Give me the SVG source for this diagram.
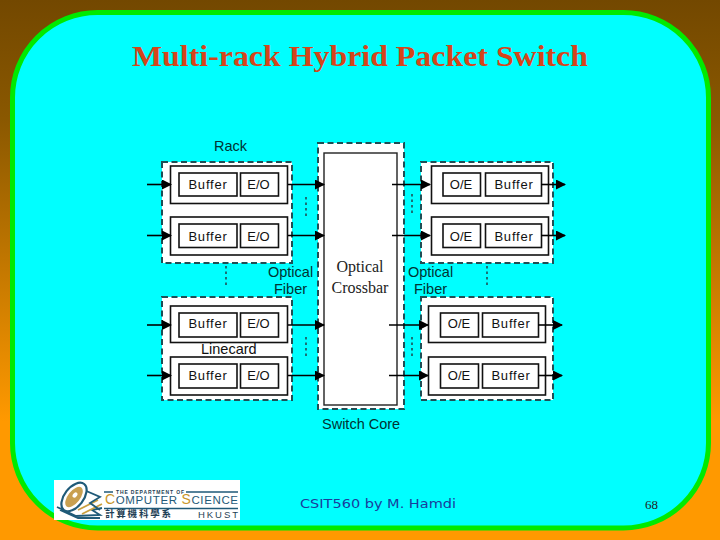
<svg xmlns="http://www.w3.org/2000/svg" width="720" height="540" viewBox="0 0 720 540">
<style>
.a{font-family:"Liberation Sans",Arial,sans-serif;font-size:14.500px;fill:#003333}
.b{font-family:"Liberation Sans",Arial,sans-serif;font-size:13px;fill:#111;text-anchor:middle}
.s{font-family:"Liberation Serif","Times New Roman",serif;font-size:16px;fill:#222;text-anchor:middle}
.d{fill:#fff;stroke:#1f4f55;stroke-width:2;stroke-dasharray:6 3.5}
.l{fill:#fff;stroke:#111;stroke-width:1.600}
.c{stroke:#000;stroke-width:1.600;fill:none;marker-end:url(#ah)}
.v{stroke:#1f4f55;stroke-width:1.600;stroke-dasharray:2.500 3;fill:none}
</style>
<defs>
<linearGradient id="bg" x1="0" y1="0" x2="0" y2="1"><stop offset="0" stop-color="#734800"/><stop offset="0.22" stop-color="#8a5800"/><stop offset="0.78" stop-color="#ff9900"/><stop offset="1" stop-color="#ff9900"/></linearGradient>
<marker id="ah" markerUnits="userSpaceOnUse" markerWidth="10" markerHeight="10" refX="9" refY="5" orient="auto"><path d="M0 0L10 5L0 10Z" fill="#000"/></marker>
</defs>
<rect width="720" height="540" fill="url(#bg)"/>
<rect x="12.500" y="12.500" width="696" height="515.500" rx="85" ry="85" fill="#00ffff" stroke="#00ea00" stroke-width="5"/>
<text x="360" y="66" text-anchor="middle" font-family="Liberation Serif,serif" font-size="30" font-weight="bold" fill="#d4451a" textLength="456" lengthAdjust="spacingAndGlyphs">Multi-rack Hybrid Packet Switch</text>

<g id="switch-core">
<rect class="d" x="318" y="143" width="86" height="266"/>
<rect x="324" y="153" width="73" height="252" fill="#fff" stroke="#222" stroke-width="1.400"/>
<text class="s" x="360" y="272">Optical</text>
<text class="s" x="360" y="293">Crossbar</text>
</g>
<g id="rack-tl"><rect class="d" x="162" y="162" width="130" height="101"/></g>
<g id="rack-tr"><rect class="d" x="421" y="162" width="132" height="101"/></g>
<g id="rack-bl"><rect class="d" x="162" y="297" width="130" height="103"/></g>
<g id="rack-br"><rect class="d" x="421" y="297" width="132" height="103"/></g>

<g id="lc-tl1"><rect class="l" x="170.500" y="166" width="117" height="37.500"/><rect class="l" x="179" y="173" width="58" height="23"/><rect class="l" x="240.500" y="173" width="38" height="23"/><text class="b" x="208" y="189" letter-spacing=".8">Buffer</text><text class="b" x="258.500" y="189">E/O</text></g>
<g id="lc-tl2"><rect class="l" x="170.500" y="217" width="117" height="38"/><rect class="l" x="179" y="224" width="58" height="23.500"/><rect class="l" x="240.500" y="224" width="38" height="23.500"/><text class="b" x="208" y="240.500" letter-spacing=".8">Buffer</text><text class="b" x="258.500" y="240.500">E/O</text></g>
<g id="lc-bl1"><rect class="l" x="170.500" y="306" width="117" height="36.500"/><rect class="l" x="179" y="313" width="58" height="24"/><rect class="l" x="240.500" y="313" width="38" height="24"/><text class="b" x="208" y="328" letter-spacing=".8">Buffer</text><text class="b" x="258.500" y="328">E/O</text></g>
<g id="lc-bl2"><rect class="l" x="170.500" y="357" width="117" height="38"/><rect class="l" x="179" y="364" width="58" height="24"/><rect class="l" x="240.500" y="364" width="38" height="24"/><text class="b" x="208" y="380" letter-spacing=".8">Buffer</text><text class="b" x="258.500" y="380">E/O</text></g>

<g id="lc-tr1"><rect class="l" x="431.500" y="166" width="117" height="37.500"/><rect class="l" x="443" y="173" width="37.500" height="23"/><rect class="l" x="485.500" y="173" width="56" height="23"/><text class="b" x="461" y="189">O/E</text><text class="b" x="514" y="189" letter-spacing=".8">Buffer</text></g>
<g id="lc-tr2"><rect class="l" x="431.500" y="217" width="117" height="38"/><rect class="l" x="443" y="224" width="37.500" height="23.500"/><rect class="l" x="485.500" y="224" width="56" height="23.500"/><text class="b" x="461" y="240.500">O/E</text><text class="b" x="514" y="240.500" letter-spacing=".8">Buffer</text></g>
<g id="lc-br1"><rect class="l" x="428.500" y="306" width="117" height="36.500"/><rect class="l" x="440.500" y="313" width="38" height="24"/><rect class="l" x="482.500" y="313" width="56" height="24"/><text class="b" x="459" y="328">O/E</text><text class="b" x="511" y="328" letter-spacing=".8">Buffer</text></g>
<g id="lc-br2"><rect class="l" x="428.500" y="357" width="117" height="38"/><rect class="l" x="440.500" y="364" width="38" height="24"/><rect class="l" x="482.500" y="364" width="56" height="24"/><text class="b" x="459" y="380">O/E</text><text class="b" x="511" y="380" letter-spacing=".8">Buffer</text></g>

<g id="connectors">
<path class="c" d="M147 184.500H171"/><path class="c" d="M147 235.500H171"/><path class="c" d="M147 325H171"/><path class="c" d="M147 375.500H171"/>
<path class="c" d="M288 184.500H324"/><path class="c" d="M288 235.500H324"/><path class="c" d="M288 325H324"/><path class="c" d="M288 375.500H324"/>
<path class="c" d="M392 184.500H430"/><path class="c" d="M392 235.500H430"/><path class="c" d="M389 325H428"/><path class="c" d="M389 375.500H428"/>
<path class="c" d="M541 184.500H565"/><path class="c" d="M541 235.500H565"/><path class="c" d="M538 325H562"/><path class="c" d="M538 375.500H562"/>
<path class="v" d="M306 197V219"/><path class="v" d="M226 266V288"/><path class="v" d="M412 194V216"/><path class="v" d="M487 266V288"/><path class="v" d="M306 337V359"/><path class="v" d="M412 337V359"/>
</g>

<g id="labels">
<text class="a" x="214" y="151">Rack</text>
<text class="a" x="268" y="277">Optical</text>
<text class="a" x="274" y="294">Fiber</text>
<text class="a" x="408" y="277">Optical</text>
<text class="a" x="414" y="294">Fiber</text>
<text class="a" x="201" y="354" style="fill:#111">Linecard</text>
<text class="a" x="322" y="429">Switch Core</text>
</g>

<g id="logo">
<rect x="54" y="480" width="186" height="40" fill="#fff"/>
<path d="M57 507L76 516L100 515L92 510L102 508M60 510L78 518L100 518" stroke="#1f5a78" stroke-width="1.800" fill="none"/>
<path d="M78 510L98 500M82 514L102 504" stroke="#c9a040" stroke-width="1.800" fill="none"/>
<path d="M84 490L100 497L90 503L100 510" stroke="#1f5a78" stroke-width="1.800" fill="none"/>
<ellipse cx="74" cy="497" rx="9.500" ry="16.500" transform="rotate(38 74 497)" fill="#fff" stroke="#1f5a78" stroke-width="2.200"/>
<ellipse cx="74" cy="497" rx="6" ry="12" transform="rotate(38 74 497)" fill="#c9a050"/>
<ellipse cx="75" cy="495" rx="2" ry="3" transform="rotate(38 75 495)" fill="#fff"/>
<path d="M104 492H113M186 492H238M104 508.500H238" stroke="#1f5a78" stroke-width="1.500" fill="none"/>
<text x="116" y="494" font-family="Liberation Sans,sans-serif" font-size="5" font-weight="bold" fill="#1f3f55" textLength="68">THE DEPARTMENT OF</text>
<text x="105" y="504" font-family="Liberation Sans,sans-serif" font-size="11.500" fill="#1f5a78" textLength="133"><tspan fill="#c9962a" font-size="14">C</tspan>OMPUTER <tspan fill="#c9962a" font-size="14">S</tspan>CIENCE</text>
<text x="105" y="517" font-family="Noto Sans CJK TC,sans-serif" font-size="9.500" font-weight="700" fill="#1f3f55" textLength="66">計算機科學系</text>
<text x="198" y="517.500" font-family="Liberation Sans,sans-serif" font-size="9.500" fill="#1f3f55" textLength="40">HKUST</text>
</g>
<text x="300" y="508" font-family="DejaVu Sans,sans-serif" font-size="13" fill="#1a3c9c" textLength="156" lengthAdjust="spacingAndGlyphs">CSIT560 by M. Hamdi</text>
<text x="645" y="509" font-family="Liberation Serif,serif" font-size="13" fill="#222">68</text>
</svg>
